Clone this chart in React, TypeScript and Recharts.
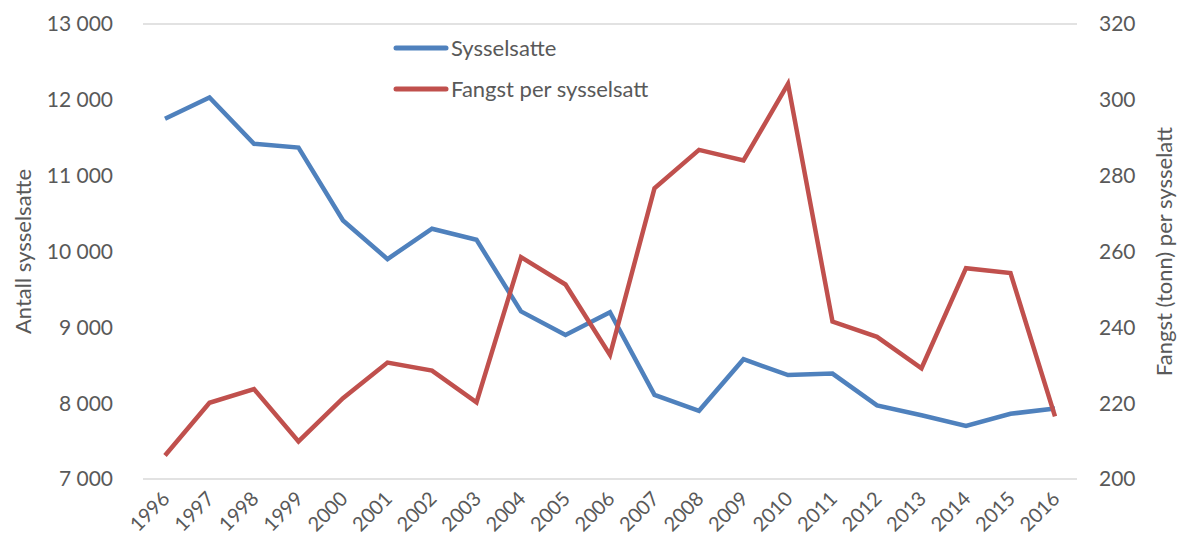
import { LineChart, Line, XAxis, YAxis, CartesianGrid } from "recharts";

const years = [
  "1996", "1997", "1998", "1999", "2000", "2001", "2002", "2003", "2004", "2005", "2006",
  "2007", "2008", "2009", "2010", "2011", "2012", "2013", "2014", "2015", "2016",
];

// antall sysselsatte (venstre akse)
const sysselsatte = [
  11750, 12030, 11420, 11370, 10410, 9900, 10300, 10155, 9210, 8900, 9200,
  8110, 7900, 8580, 8370, 8390, 7970, 7840, 7700, 7860, 7930,
];

// fangst (tonn) per sysselsatt (høyre akse)
const fangstPerSysselsatt = [
  206.2, 220.1, 223.7, 209.9, 221.3, 230.7, 228.6, 220.2, 258.5, 251.3, 232.7,
  276.7, 286.8, 284.0, 304.2, 241.5, 237.5, 229.2, 255.6, 254.3, 216.5,
];

const leftTicks = [7000, 8000, 9000, 10000, 11000, 12000, 13000];
const rightTicks = [200, 220, 240, 260, 280, 300, 320];

const data = years.map((year, i) => ({
  year,
  sysselsatte: sysselsatte[i],
  fangst: fangstPerSysselsatt[i],
}));

const FONT = "Lato, 'Open Sans', sans-serif";
const TEXT = "#595959";
const BLUE = "#4F81BD";
const RED = "#C0504D";

const fmt = (v: number) => String(v).replace(/\B(?=(\d{3})+(?!\d))/g, " ");

function YearTick({ x, y, payload }: any) {
  const ax = x + 6;
  const ay = y + 13;
  return (
    <text
      x={ax}
      y={ay}
      transform={`rotate(-45, ${ax}, ${ay})`}
      textAnchor="end"
      fill={TEXT}
      fontSize={20}
      fontFamily={FONT}
    >
      {payload.value}
    </text>
  );
}

function AxisTitle({ cx, cy, text }: { cx: number; cy: number; text: string }) {
  return (
    <text
      x={cx}
      y={cy}
      transform={`rotate(-90, ${cx}, ${cy})`}
      textAnchor="middle"
      dominantBaseline="central"
      fill={TEXT}
      fontSize={22}
      fontFamily={FONT}
    >
      {text}
    </text>
  );
}

const legendItems = [
  { name: "Sysselsatte", color: BLUE },
  { name: "Fangst per sysselsatt", color: RED },
];

export default function App() {
  return (
    <div style={{ position: "absolute", left: 0, top: 0, width: 1190, height: 544, background: "#fff" }}>
      <LineChart
        width={1190}
        height={544}
        data={data}
        margin={{ top: 24, right: 0, bottom: 0, left: 0 }}
      >
        <CartesianGrid vertical={false} stroke="#d9d9d9" strokeWidth={1.5} />
        <XAxis
          dataKey="year"
          axisLine={false}
          tickLine={false}
          height={65}
          interval={0}
          padding={{ left: 22, right: 22 }}
          tick={<YearTick />}
        />
        <YAxis
          yAxisId="left"
          domain={[7000, 13000]}
          ticks={leftTicks}
          tickFormatter={fmt}
          axisLine={false}
          tickLine={false}
          tickSize={0}
          tickMargin={30}
          width={143}
          tick={{ fill: TEXT, fontSize: 21, fontFamily: FONT }}
          label={{
            content: ({ viewBox }: any) => (
              <AxisTitle cx={22} cy={viewBox.y + viewBox.height / 2} text="Antall sysselsatte" />
            ),
          }}
        />
        <YAxis
          yAxisId="right"
          orientation="right"
          domain={[200, 320]}
          ticks={rightTicks}
          axisLine={false}
          tickLine={false}
          tickSize={0}
          tickMargin={22}
          width={113}
          tick={{ fill: TEXT, fontSize: 21, fontFamily: FONT, textAnchor: "start" }}
          label={{
            content: ({ viewBox }: any) => (
              <AxisTitle cx={1163} cy={viewBox.y + viewBox.height / 2} text="Fangst (tonn) per sysselatt" />
            ),
          }}
        />
        <Line
          yAxisId="left"
          dataKey="sysselsatte"
          name="Sysselsatte"
          stroke={BLUE}
          strokeWidth={4.5}
          dot={false}
          isAnimationActive={false}
        />
        <Line
          yAxisId="right"
          dataKey="fangst"
          name="Fangst per sysselsatt"
          stroke={RED}
          strokeWidth={4.5}
          dot={false}
          isAnimationActive={false}
        />
      </LineChart>
      <div
        style={{
          position: "absolute",
          left: 393,
          top: 27,
          fontFamily: FONT,
          fontSize: 22,
          color: TEXT,
          lineHeight: "41px",
        }}
      >
        {legendItems.map((it) => (
          <div key={it.name} style={{ display: "flex", alignItems: "center", height: 41 }}>
            <svg width={56} height={8} style={{ marginRight: 2 }}>
              <line x1={3} y1={4} x2={53} y2={4} stroke={it.color} strokeWidth={5} strokeLinecap="round" />
            </svg>
            <span>{it.name}</span>
          </div>
        ))}
      </div>
    </div>
  );
}
